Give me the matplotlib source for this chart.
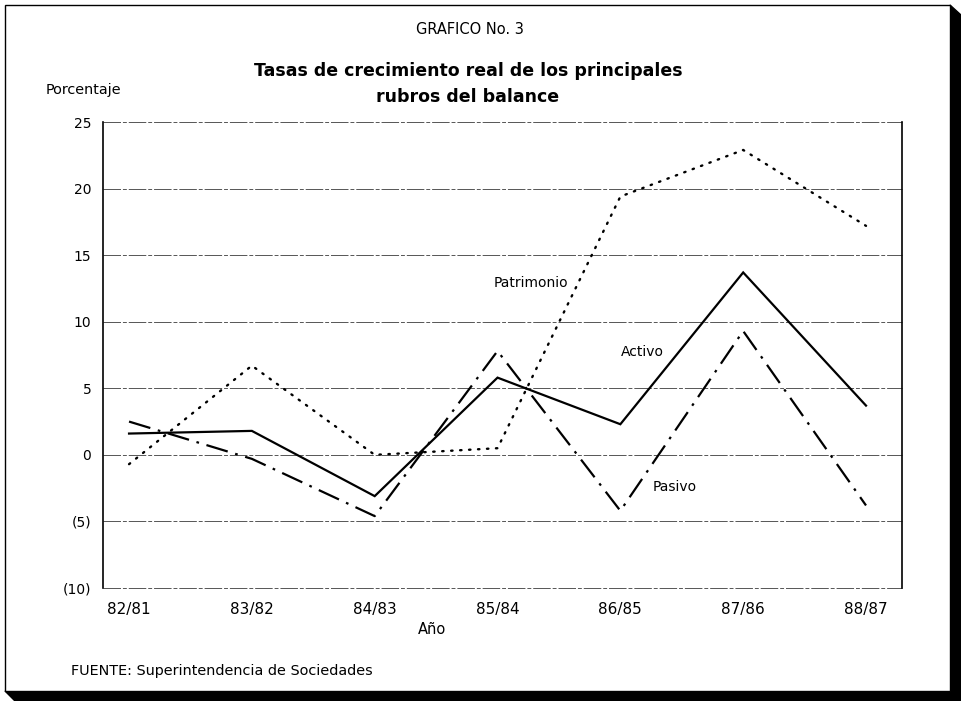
import matplotlib.pyplot as plt
from matplotlib.patches import Polygon, Rectangle
import numpy as np

plt.rcParams['font.family'] = ['DejaVu Sans']

years = ["82/81", "83/82", "84/83", "85/84", "86/85", "87/86", "88/87"]
activo = [1.6, 1.8, -3.1, 5.8, 2.3, 13.7, 3.7]
pasivo = [2.5, -0.3, -4.6, 7.8, -4.2, 9.3, -3.8]
patrimonio = [-0.7, 6.7, 0.0, 0.5, 19.4, 22.9, 17.2]
yticks = [25, 20, 15, 10, 5, 0, -5, -10]
ylabels = ["25", "20", "15", "10", "5", "0", "(5)", "(10)"]

W, H = 961, 701
fig = plt.figure(figsize=(W / 100, H / 100), dpi=100)

# pixel coords -> figure fraction
def fx(x):
    return x / W

def fy(y):
    return 1 - y / H

# frame with black shadow
fig.patches.append(Polygon([(fx(950), fy(5)), (fx(961), fy(15)), (fx(961), fy(701)),
                            (fx(15), fy(701)), (fx(5), fy(691)), (fx(950), fy(691))],
                           closed=True, transform=fig.transFigure, color='black', zorder=0))
fig.patches.append(Rectangle((fx(5), fy(691)), fx(950) - fx(5), fy(5) - fy(691),
                             transform=fig.transFigure, facecolor='white',
                             edgecolor='black', lw=1.0, zorder=1))

ax = fig.add_axes([103 / W, 1 - 588 / H, (902 - 103) / W, (588 - 122) / H])
ax.set_zorder(3)
ax.set_facecolor('none')
x = np.arange(len(years))

for yv in yticks:
    ax.axhline(yv, color='#555555', lw=0.7, ls=(0, (18, 2, 4, 2)), zorder=1, clip_on=False)

ax.plot(x, activo, color='black', lw=1.6, solid_joinstyle='miter', zorder=3)
ax.plot(x, pasivo, color='black', lw=1.6, ls=(0, (10, 3.5, 1.2, 3.5)), zorder=3)
ax.plot(x, patrimonio, color='black', lw=1.7, ls=(0, (0.6, 3.2)),
        dash_capstyle='round', zorder=3)

ax.set_xlim(-0.212, 6.293)
ax.set_ylim(-10, 25)
ax.set_xticks(x)
ax.set_xticklabels(years, fontsize=11)
ax.set_yticks(yticks)
ax.set_yticklabels(ylabels, fontsize=10)
ax.tick_params(axis='y', length=0, pad=8.5)
ax.tick_params(axis='x', length=0, pad=10)
for s in ['left', 'right']:
    ax.spines[s].set_linewidth(1.2)
for s in ['top', 'bottom']:
    ax.spines[s].set_visible(False)

ax.text(3.27, 12.9, "Patrimonio", fontsize=10, ha='center', va='center')
ax.text(4.18, 7.7, "Activo", fontsize=10, ha='center', va='center')
ax.text(4.44, -2.4, "Pasivo", fontsize=10, ha='center', va='center')

fig.text(fx(470), fy(30), "GRAFICO No. 3", fontsize=10.5, ha='center', va='center', zorder=5)
fig.text(fx(468), fy(84), "Tasas de crecimiento real de los principales\nrubros del balance",
         fontsize=12.5, fontweight='bold', ha='center', va='center', linespacing=1.6, zorder=5)
fig.text(fx(46), fy(90), "Porcentaje", fontsize=10.4, ha='left', va='center', zorder=5)
fig.text(fx(432), fy(629), "Año", fontsize=10.5, ha='center', va='center', zorder=5)
fig.text(fx(71), fy(671), "FUENTE: Superintendencia de Sociedades", fontsize=10.4,
         ha='left', va='center', zorder=5)

fig.savefig("out.png", dpi=100)
